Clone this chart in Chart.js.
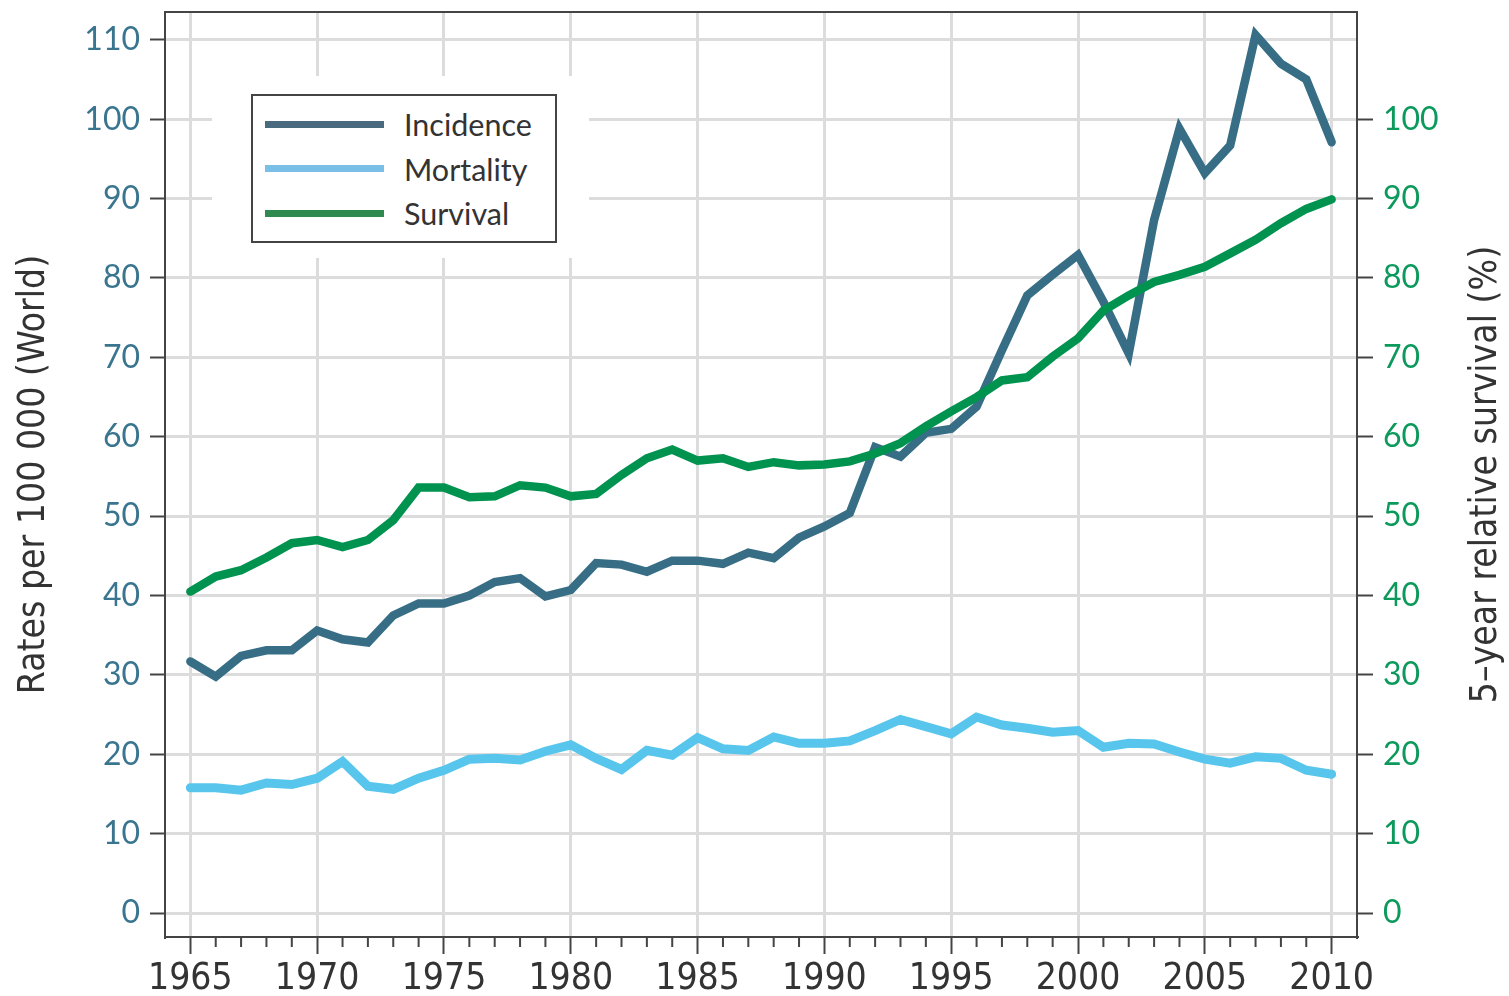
<!DOCTYPE html>
<html>
<head>
<meta charset="utf-8">
<title>Incidence, mortality and survival, 1965-2010</title>
<script src="https://cdn.jsdelivr.net/npm/chart.js@4.4.1/dist/chart.umd.min.js"></script>
<style>
  body { margin: 0; background: #fff; }
  #wrap { position: relative; width: 1509px; height: 996px; }
  #legendMask { position: absolute; left: 212px; top: 76px; width: 377px; height: 182px; background: #fff; }
  #legendBox { position: absolute; left: 39px; top: 18px; width: 306px; height: 149px; box-sizing: border-box;
               border: 2px solid #444; padding-top: 6px; background: #fff; }
  .row { display: flex; align-items: center; height: 44.5px; }
  .swatch { margin-left: 12px; width: 119px; height: 7px; }
  .label { margin-left: 20px; font: 30.5px Lato, "Open Sans", sans-serif; color: #333; }
</style>
</head>
<body>
<div id="wrap">
  <canvas id="trendChart" width="1509" height="996"></canvas>
  <div id="legendMask"><div id="legendBox"></div></div>
</div>
<script>
// years on the x axis
const years = [1965, 1966, 1967, 1968, 1969, 1970, 1971, 1972, 1973, 1974,
               1975, 1976, 1977, 1978, 1979, 1980, 1981, 1982, 1983, 1984,
               1985, 1986, 1987, 1988, 1989, 1990, 1991, 1992, 1993, 1994,
               1995, 1996, 1997, 1998, 1999, 2000, 2001, 2002, 2003, 2004,
               2005, 2006, 2007, 2008, 2009, 2010];

// rates per 100 000 (left axis)
const incidence = [31.7, 29.8, 32.4, 33.1, 33.1, 35.6, 34.5, 34.1, 37.5, 39.0,
                   39.0, 40.0, 41.7, 42.2, 39.9, 40.7, 44.1, 43.9, 43.0, 44.4,
                   44.4, 44.0, 45.4, 44.7, 47.3, 48.7, 50.4, 58.7, 57.5, 60.5,
                   61.0, 63.8, 70.9, 77.8, 80.4, 82.9, 77.0, 70.5, 87.3, 98.8,
                   93.2, 96.7, 110.6, 107.0, 105.0, 97.1];
const mortality = [15.8, 15.8, 15.5, 16.4, 16.2, 17.0, 19.1, 16.0, 15.6, 17.0,
                   18.0, 19.4, 19.5, 19.3, 20.4, 21.2, 19.5, 18.1, 20.5, 19.9,
                   22.1, 20.7, 20.5, 22.2, 21.4, 21.4, 21.7, 23.0, 24.4, 23.5,
                   22.6, 24.7, 23.7, 23.3, 22.8, 23.0, 20.9, 21.4, 21.3, 20.3,
                   19.4, 18.9, 19.7, 19.5, 18.0, 17.5];
// 5-year relative survival, % (right axis)
const survival = [40.5, 42.4, 43.2, 44.8, 46.6, 47.0, 46.1, 47.0, 49.5, 53.6,
                  53.6, 52.4, 52.5, 53.9, 53.6, 52.5, 52.8, 55.2, 57.3, 58.4,
                  57.0, 57.3, 56.2, 56.8, 56.4, 56.5, 56.9, 57.9, 59.2, 61.3,
                  63.2, 65.0, 67.1, 67.5, 70.1, 72.4, 75.9, 77.8, 79.5, 80.4,
                  81.4, 83.1, 84.8, 86.9, 88.7, 89.9];

const seriesNames = ['Incidence', 'Mortality', 'Survival'];
const xTicks = [1965, 1970, 1975, 1980, 1985, 1990, 1995, 2000, 2005, 2010];
const leftTicks = [0, 10, 20, 30, 40, 50, 60, 70, 80, 90, 100, 110];
const rightTicks = [0, 10, 20, 30, 40, 50, 60, 70, 80, 90, 100];
const leftTitle = 'Rates per 100 000 (World)';
const rightTitle = '5\u2013year relative survival (%)';

const lineColors = ['#376e86', '#58c6ec', '#00924f'];
const legendColors = ['#4a6a80', '#7abfe8', '#2e8a4f'];
const narrowFont = "'Liberation Sans Narrow', 'DejaVu Sans Condensed', sans-serif";
const numFont = "Lato, 'Open Sans', sans-serif";

function pairs(values) {
    return years.map((yr, i) => ({ x: yr, y: values[i] }));
}

// frame round the plot, the minor year ticks and the right-hand title
const framePlugin = {
    id: 'frame',
    afterDraw(chart) {
        const { ctx, chartArea: a, scales } = chart;
        ctx.save();
        ctx.strokeStyle = '#444';
        ctx.lineWidth = 2;
        ctx.strokeRect(a.left, a.top, a.right - a.left, a.bottom - a.top);

        ctx.beginPath();
        years.forEach(yr => {
            if (yr % 5 === 0) return;
            const px = scales.x.getPixelForValue(yr);
            ctx.moveTo(px, a.bottom);
            ctx.lineTo(px, a.bottom + 10);
        });
        ctx.stroke();

        ctx.translate(chart.width - 23, (a.top + a.bottom) / 2);
        ctx.rotate(-Math.PI / 2);
        ctx.font = '37px ' + narrowFont;
        ctx.fillStyle = '#333';
        ctx.textAlign = 'center';
        ctx.textBaseline = 'middle';
        ctx.fillText(rightTitle, 0, 0);
        ctx.restore();
    }
};

const gridStyle = { color: '#dcdcdc', lineWidth: 3, tickColor: '#444', tickWidth: 2 };
const axisBorder = { display: true, color: '#444', width: 2 };

// the plot area is fixed; no extra room for half-labels at the ends
function fixVertical(width) {
    return s => { s.width = width; s.paddingTop = 0; s.paddingBottom = 0; };
}

const chart = new Chart(document.getElementById('trendChart'), {
    type: 'line',
    data: {
        datasets: [
            { label: seriesNames[0], data: pairs(incidence), yAxisID: 'y',
              borderColor: lineColors[0], borderWidth: 8.5, order: 1 },
            { label: seriesNames[1], data: pairs(mortality), yAxisID: 'y',
              borderColor: lineColors[1], borderWidth: 9, order: 2 },
            { label: seriesNames[2], data: pairs(survival), yAxisID: 'y1',
              borderColor: lineColors[2], borderWidth: 8.5, order: 0 }
        ]
    },
    options: {
        responsive: false,
        animation: false,
        layout: { padding: { top: 12, left: 0, right: 0, bottom: 0 } },
        elements: {
            point: { radius: 0 },
            line: { tension: 0, borderCapStyle: 'round', fill: false }
        },
        plugins: { legend: { display: false }, tooltip: { enabled: false } },
        scales: {
            x: {
                type: 'linear',
                min: 1964, max: 2011,
                afterBuildTicks: s => { s.ticks = xTicks.map(v => ({ value: v })); },
                afterFit: s => { s.height = 59; s.paddingLeft = 0; s.paddingRight = 0; },
                grid: { ...gridStyle, tickLength: 17 },
                border: axisBorder,
                ticks: {
                    color: '#333', padding: 3, maxRotation: 0, autoSkip: false,
                    font: { family: narrowFont, size: 37 },
                    callback: v => String(v)
                }
            },
            y: {
                position: 'left',
                min: -3, max: 113.5,
                afterBuildTicks: s => { s.ticks = leftTicks.map(v => ({ value: v })); },
                afterFit: fixVertical(165),
                grid: { ...gridStyle, tickLength: 15 },
                border: axisBorder,
                ticks: { color: '#3a7590', padding: 10, font: { family: numFont, size: 32 } },
                title: {
                    display: true, text: leftTitle, color: '#333',
                    font: { family: narrowFont, size: 37, lineHeight: 1 },
                    padding: { top: 16, bottom: 0 }
                }
            },
            y1: {
                position: 'right',
                min: -3, max: 113.5,
                afterBuildTicks: s => { s.ticks = rightTicks.map(v => ({ value: v })); },
                afterFit: fixVertical(152),
                grid: { ...gridStyle, tickLength: 16, drawOnChartArea: false },
                border: axisBorder,
                ticks: { color: '#0b9a5b', padding: 10, font: { family: numFont, size: 32 } }
            }
        }
    },
    plugins: [framePlugin]
});

// legend box drawn over the plot, built from the datasets
const box = document.getElementById('legendBox');
chart.data.datasets.forEach((ds, i) => {
    const row = document.createElement('div');
    row.className = 'row';
    const sw = document.createElement('div');
    sw.className = 'swatch';
    sw.style.background = legendColors[i];
    const lab = document.createElement('span');
    lab.className = 'label';
    lab.textContent = ds.label;
    row.appendChild(sw);
    row.appendChild(lab);
    box.appendChild(row);
});
</script>
</body>
</html>
